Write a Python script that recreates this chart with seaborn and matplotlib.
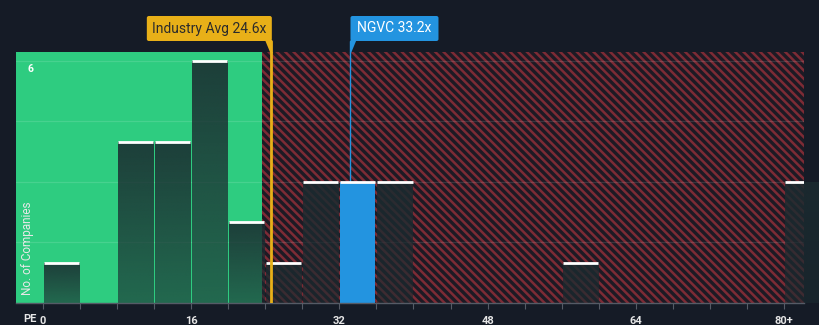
import numpy as np
import pandas as pd
import matplotlib
matplotlib.use("Agg")
import matplotlib.pyplot as plt
from matplotlib.patches import Polygon, FancyBboxPatch
from matplotlib.lines import Line2D
import matplotlib.transforms as mtransforms
import seaborn as sns

# PE ratio histogram (bins of 4x, last bin is 80+)
pe_bin_start = [0, 8, 12, 16, 20, 24, 28, 32, 36, 56, 80]
companies = [1, 4, 4, 6, 2, 1, 3, 3, 3, 1, 3]
tick_values = [0, 16, 32, 48, 64, 80]
tick_labels = ["0", "16", "32", "48", "64", "80+"]
industry_avg = 24.6
company_pe = 33.2
company_name = "NGVC"
fair_cut = 23.6

BG = "#151b26"
GREEN = "#2ecc80"
BLUE = "#2394e0"
GOLD = "#e8b018"

sns.set_theme(style="dark")
plt.rcParams["font.family"] = ["Roboto", "DejaVu Sans"]
plt.rcParams["hatch.color"] = "#7d2b35"
plt.rcParams["hatch.linewidth"] = 1.8

fig = plt.figure(figsize=(8.2, 3.25), dpi=100, facecolor=BG)
ax = fig.add_axes([16 / 820, 22 / 325, 788 / 820, 251 / 325])
ax.set_facecolor(BG)

xmin, xmax = -2.91, 82.16
ymin, ymax = 0, 6.223

# value zones
ax.axvspan(xmin, fair_cut, color=GREEN, lw=0, zorder=0)
ax.axvspan(fair_cut, xmax, facecolor="#1d1a24", edgecolor="#7d2b35",
           hatch="\\\\\\\\", lw=0, zorder=0)

for gy in [1.5, 3, 4.5, 6]:
    ax.axhline(gy, color="white", alpha=0.12, lw=0.9, zorder=0.5)

df = pd.DataFrame({"pe": [b + 2.0 for b in pe_bin_start],
                   "n": [float(c) for c in companies]})
n_before = len(ax.patches)
sns.histplot(data=df, x="pe", weights="n", binwidth=4, binrange=(0, 84),
             shrink=0.95, ax=ax, element="bars", fill=True,
             color="#1b2b30", linewidth=0, zorder=2)
bars = list(ax.patches)[n_before:]

# gradient fill + white caps
for p in bars:
    h = p.get_height()
    if h <= 0:
        p.set_visible(False)
        continue
    x0 = p.get_x()
    w = p.get_width()
    if x0 <= company_pe < x0 + w + 0.3:
        p.set_facecolor(BLUE)
        p.set_alpha(1)
    else:
        p.set_facecolor("none")
        n = 64
        grad = np.zeros((n, 1, 4))
        grad[..., 0] = 0x1b / 255
        grad[..., 1] = 0x2b / 255
        grad[..., 2] = 0x30 / 255
        grad[:, 0, 3] = np.linspace(0.88, 0.62, n)
        im = ax.imshow(grad, extent=(x0, x0 + w, 0, h), aspect="auto",
                       origin="upper", zorder=2, interpolation="bilinear")
        im.set_clip_path(p)
    ax.plot([x0, x0 + w], [h, h], color="white", lw=2, zorder=3,
            solid_capstyle="butt")

ax.set_xlim(xmin, xmax)
ax.set_ylim(ymin, ymax)
ax.set_xlabel("")
ax.set_ylabel("")

ax.set_xticks(tick_values)
ax.set_xticklabels(tick_labels)
ax.set_xticks(np.arange(0, 84, 4), minor=True)
ax.tick_params(axis="x", which="both", length=4, width=0.8, color="#555b66",
               direction="out", bottom=True)
ax.tick_params(axis="x", which="major", pad=5, labelsize=8,
               labelcolor="#e6e6e6")
ax.set_yticks([])
for s in ["top", "right", "left"]:
    ax.spines[s].set_visible(False)
ax.spines["bottom"].set_color("#555b66")
ax.spines["bottom"].set_linewidth(1)
ax.grid(False)
for t in ax.get_xticklabels():
    t.set_fontweight("bold")

blend = mtransforms.blended_transform_factory(ax.transAxes, ax.transData)
ax.text(0.014, 6 - 0.07, "6", transform=blend, ha="left", va="top",
        color="white", fontsize=7.5, fontweight="bold")
ax.text(12 / 788, 0.2, "No. of Companies", transform=blend,
        rotation=90, ha="center", va="bottom", color="#e8e8e8", fontsize=8.5)
fig.text(30 / 820, 1 - 319 / 325, "PE", ha="center", va="center",
         color="#e6e6e6", fontsize=8, fontweight="bold")

# marker lines
fig.canvas.draw()
def px(xv):
    return ax.transData.transform((xv, 0))[0]

H = 325
top_axes = H - 52
ax.axvline(industry_avg, color=GOLD, lw=2, zorder=4)
ax.axvline(company_pe, color=BLUE, lw=1, zorder=1.5)

box_top, box_bot = H - 16, H - 41
ident = mtransforms.IdentityTransform()

# industry label box (pointer on its right edge)
ix = px(industry_avg)
bw = 125
fig.patches.append(FancyBboxPatch((ix + 1 - bw, box_bot), bw, box_top - box_bot,
                                  boxstyle="round,pad=0,rounding_size=2",
                                  transform=ident, facecolor=GOLD, lw=0,
                                  zorder=5))
fig.patches.append(Polygon([(ix - 6, box_bot + 1), (ix + 1, box_bot + 1),
                            (ix + 1, top_axes), (ix - 1, top_axes)],
                           closed=True, transform=ident, facecolor=GOLD,
                           lw=0, zorder=5))
fig.lines.append(Line2D([ix, ix], [top_axes, box_bot], transform=ident,
                        color=GOLD, lw=2))
fig.text(ix + 1 - bw / 2, (box_top + box_bot) / 2,
         f"Industry Avg {industry_avg}x", ha="center", va="center",
         color="#2b2b2b", fontsize=10, transform=ident, zorder=6)

# company label box (pointer on its left edge)
cx = px(company_pe)
cw = 88
fig.patches.append(FancyBboxPatch((cx, box_bot), cw, box_top - box_bot,
                                  boxstyle="round,pad=0,rounding_size=2",
                                  transform=ident, facecolor=BLUE, lw=0,
                                  zorder=5))
fig.patches.append(Polygon([(cx, box_bot + 1), (cx + 6, box_bot + 1),
                            (cx + 1, top_axes), (cx, top_axes)],
                           closed=True, transform=ident, facecolor=BLUE,
                           lw=0, zorder=5))
fig.lines.append(Line2D([cx, cx], [top_axes, box_bot], transform=ident,
                        color=BLUE, lw=1))
fig.text(cx + cw / 2, (box_top + box_bot) / 2,
         f"{company_name} {company_pe}x", ha="center", va="center",
         color="white", fontsize=10, transform=ident, zorder=6)

fig.savefig("out.png", dpi=100, facecolor=BG)
